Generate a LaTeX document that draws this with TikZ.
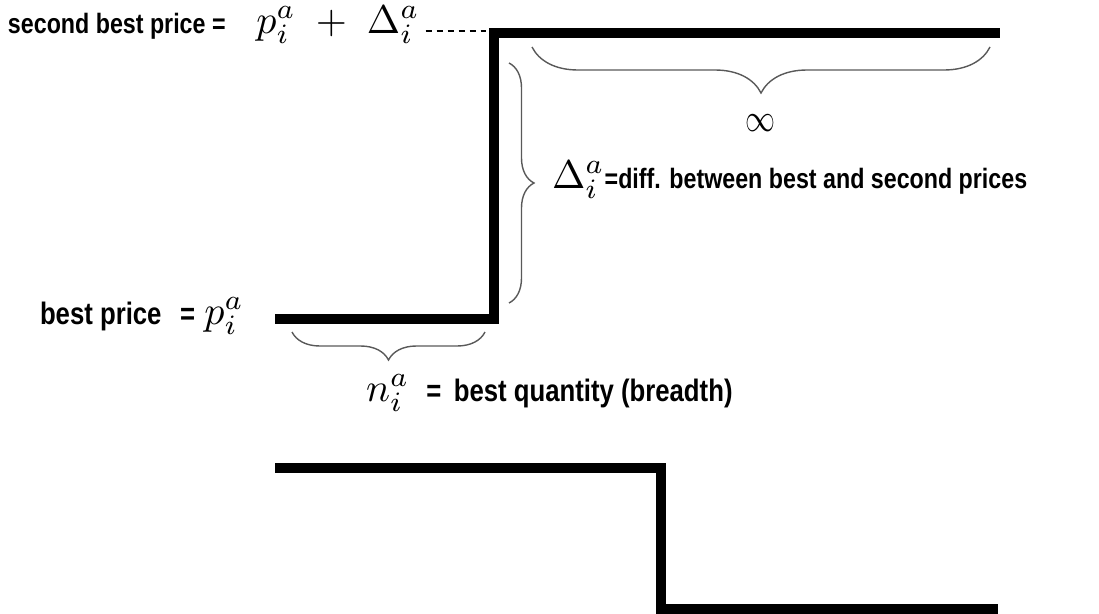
\documentclass[tikz,border=0pt]{standalone}
\usepackage{amsmath}
\usepackage{fontspec}
\newfontfamily\lblfont{Liberation Sans}[FakeStretch=0.83]
\usepackage{tikz}
\usetikzlibrary{positioning,calc,decorations.pathreplacing}
\newcommand{\bigmath}[1]{\scalebox{4}{\fontsize{10}{12}\selectfont$#1$}}

\begin{document}
\begin{tikzpicture}[
    x=1pt, y=-1pt,
    every node/.style={inner sep=0pt, outer sep=0pt},
    lbl/.style={anchor=base west, font=\lblfont\bfseries\fontsize{28}{32}\selectfont},
    lblbig/.style={lbl, font=\lblfont\bfseries\fontsize{31}{35}\selectfont},
    level/.style={line width=10pt, line join=miter},
    brc/.style={decorate, decoration={brace, amplitude=#1}, line width=1.4pt, black!65},
    guide/.style={line width=1.5pt, dash pattern=on 6pt off 5pt},
]
\useasboundingbox (0,0) rectangle (1099,613);

% Ask side (upper step)
\coordinate (bestL) at (275,319);
\coordinate (stepB) at (494,319);
\coordinate (stepT) at (494,33);
\coordinate (secR)  at (1000,33);
\draw[level] (bestL) -- (stepB) -- (stepT) -- (secR);

% Bid side (lower step)
\coordinate (bidL)  at (275,468);
\coordinate (dropT) at (661,468);
\coordinate (dropB) at (661,609);
\coordinate (bidR)  at (998,609);
\draw[level] (bidL) -- (dropT) -- (dropB) -- (bidR);

% Labels
\node[lbl] (secLbl) at (8,33)
    {second best price =\hspace{1.1em}\bigmath{p_i^a \;+\; \Delta_i^a}};
\node[lblbig] (bestLbl) at (40,324)
    {best price\hspace{0.6em}=\hspace{0.3em}\bigmath{p_i^a}};
\node[lbl] (deltaLbl) at (552,188)
    {\bigmath{\Delta_i^a}=diff. between best and second prices};
\node[lblbig] (qtyLbl) at (366,401)
    {\bigmath{n_i^a}\hspace{0.55em}=\hspace{0.4em}best quantity (breadth)};
\node (infLbl) at (760,123) {\scalebox{3}[3.9]{$\infty$}};

% Dashed guide to the second price level
\coordinate (dashEnd) at (486,31);
\draw[guide] ([xshift=6pt]secLbl.east |- dashEnd) -- (dashEnd);

% Braces
\coordinate (infR) at (990,47);
\coordinate (infL) at (532,47);
\draw[brc=46] (infR) -- (infL);
\coordinate (dltT) at (509,63);
\coordinate (dltB) at (509,303);
\draw[brc=25] (dltT) -- (dltB);
\coordinate (qtyR) at (485,332);
\coordinate (qtyL) at (292,332);
\draw[brc=28] (qtyR) -- (qtyL);

\end{tikzpicture}
\end{document}
